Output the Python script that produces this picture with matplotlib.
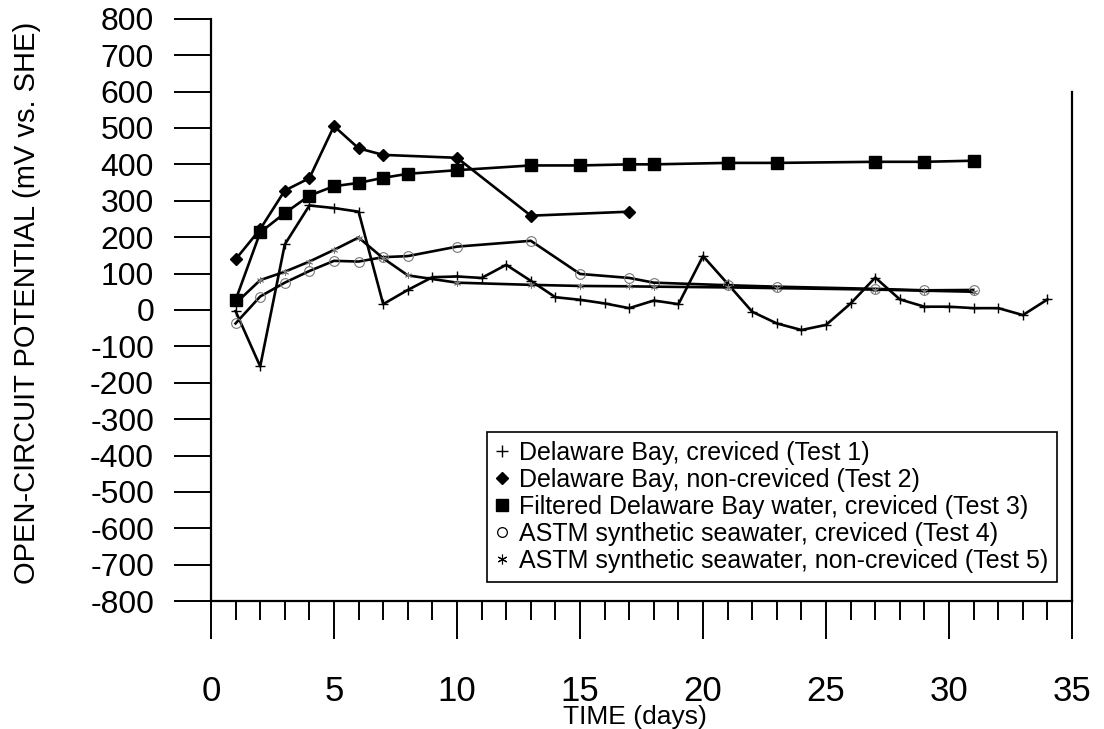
import matplotlib
matplotlib.use("Agg")
import matplotlib.pyplot as plt
from matplotlib.ticker import MultipleLocator
from matplotlib.lines import Line2D

plt.rcParams['font.family'] = ['Liberation Sans', 'DejaVu Sans']

# ---- data ----
t1_days = [1, 2, 3, 4, 5, 6, 7, 8, 9, 10, 11, 12, 13, 14, 15, 16, 17, 18, 19, 20,
           21, 22, 23, 24, 25, 26, 27, 28, 29, 30, 31, 32, 33, 34]
t1_mv = [-3, -155, 180, 287, 280, 270, 16, 55, 90, 92, 88, 124, 80, 35, 28, 18, 5, 26, 16, 148,
         72, -5, -37, -55, -41, 18, 89, 29, 9, 9, 5, 5, -14, 29]

t2_days = [1, 2, 3, 4, 5, 6, 7, 10, 13, 17]
t2_mv = [139, 222, 328, 362, 505, 444, 426, 418, 259, 270]

t3_days = [1, 2, 3, 4, 5, 6, 7, 8, 10, 13, 15, 17, 18, 21, 23, 27, 29, 31]
t3_mv = [27, 213, 266, 314, 340, 349, 363, 374, 384, 397, 397, 400, 400, 404, 404, 407, 407, 410]

t4_days = [1, 2, 3, 4, 5, 6, 7, 8, 10, 13, 15, 17, 18, 21, 23, 27, 29, 31]
t4_mv = [-37, 37, 75, 107, 135, 133, 145, 148, 174, 190, 99, 88, 75, 68, 64, 58, 54, 55]

t5_days = [1, 2, 3, 4, 5, 6, 7, 8, 10, 13, 15, 17, 18, 21, 23, 27, 29, 31]
t5_mv = [18, 82, 105, 133, 165, 199, 142, 95, 75, 69, 66, 65, 64, 62, 60, 56, 53, 50]

labels = ["Delaware Bay, creviced (Test 1)",
          "Delaware Bay, non-creviced (Test 2)",
          "Filtered Delaware Bay water, creviced (Test 3)",
          "ASTM synthetic seawater, creviced (Test 4)",
          "ASTM synthetic seawater, non-creviced (Test 5)"]

x_ticks = [0, 5, 10, 15, 20, 25, 30, 35]
y_ticks = list(range(-800, 801, 100))

# ---- figure ----
fig = plt.figure(figsize=(11.04, 7.29), dpi=100)
ax = fig.add_axes([0.1911, 0.1753, 0.7800, 0.7990])

lw = 1.9
ax.plot(t1_days, t1_mv, color='black', lw=lw, marker='+', ms=7, mew=1.0, zorder=3)
ax.plot(t2_days, t2_mv, color='black', lw=lw, marker='D', ms=6, zorder=4)
ax.plot(t3_days, t3_mv, color='black', lw=lw, marker='s', ms=9, zorder=4)
ax.plot(t4_days, t4_mv, color='black', lw=lw, marker='o', ms=7, mfc='none',
        mec='#777777', mew=0.8, zorder=3)
ax.plot(t5_days, t5_mv, color='black', lw=lw, marker=(6, 2, 0), ms=5,
        mec='#777777', mew=0.6, zorder=3)

ax.set_xlim(0, 35)
ax.set_ylim(-800, 800)
ax.set_xticks(x_ticks)
ax.xaxis.set_minor_locator(MultipleLocator(1))
ax.set_yticks(y_ticks)
ax.set_yticklabels([str(v) for v in y_ticks])

ax.spines['top'].set_visible(False)
for side in ['left', 'bottom', 'right']:
    ax.spines[side].set_linewidth(1.6)
ax.spines['right'].set_bounds(-800, 600)

ax.tick_params(axis='y', which='major', direction='out', length=27, width=1.4,
               pad=14, labelsize=23)
ax.tick_params(axis='x', which='major', direction='out', length=27, width=1.4,
               pad=26, labelsize=25)
ax.tick_params(axis='x', which='minor', direction='out', length=14, width=1.4)
ax.tick_params(right=False, top=False)

ax.set_ylabel("OPEN-CIRCUIT POTENTIAL (mV vs. SHE)", fontsize=21)
ax.yaxis.set_label_coords(-0.197, 0.512)
ax.set_xlabel("TIME (days)", fontsize=19)
ax.xaxis.set_label_coords(0.492, -0.178)

# legend (markers only)
handles = [
    Line2D([], [], ls='none', marker='+', color='black', ms=8, mew=1.0),
    Line2D([], [], ls='none', marker='D', color='black', ms=6),
    Line2D([], [], ls='none', marker='s', color='black', ms=8),
    Line2D([], [], ls='none', marker='o', mfc='none', mec='black', ms=7, mew=0.9),
    Line2D([], [], ls='none', marker=(6, 2, 0), color='black', ms=7, mew=0.8),
]
leg = ax.legend(handles, labels, loc='lower right', bbox_to_anchor=(0.9826, 0.033),
                borderaxespad=0, fontsize=18, handlelength=0.5, handletextpad=0.45,
                labelspacing=0.12, borderpad=0.35, fancybox=False, framealpha=1,
                edgecolor='black')
leg.get_frame().set_linewidth(1.2)

fig.savefig("out.png", dpi=100)
